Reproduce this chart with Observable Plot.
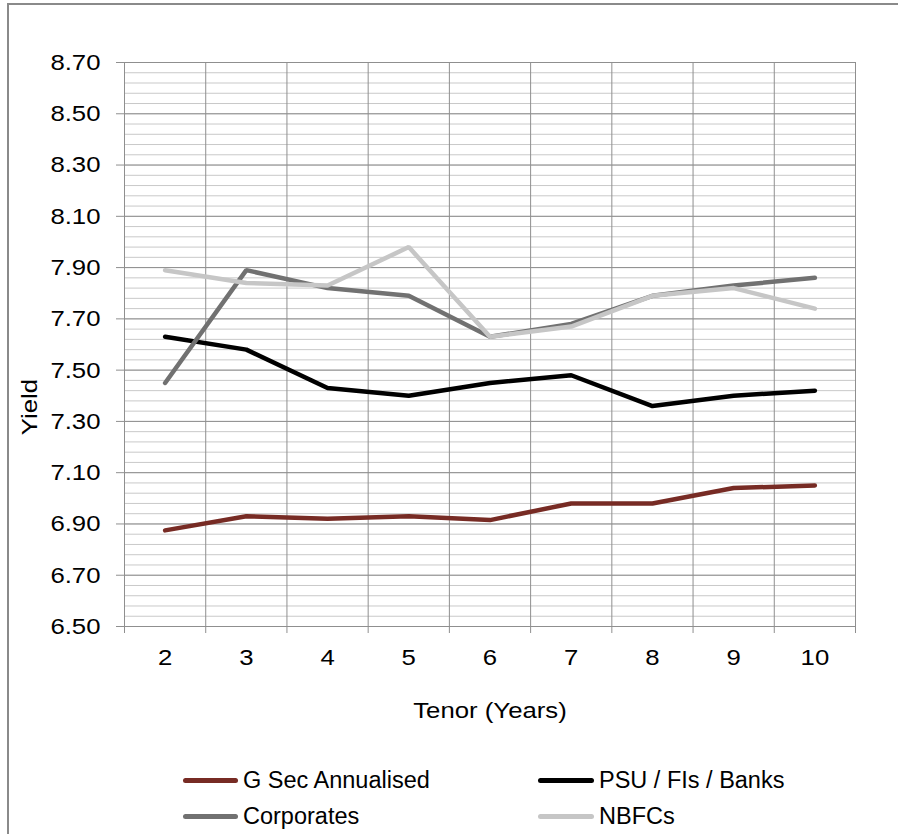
<!DOCTYPE html>
<html>
<head>
<meta charset="utf-8">
<script src="https://cdn.jsdelivr.net/npm/d3@7"></script>
<script src="https://cdn.jsdelivr.net/npm/@observablehq/plot@0.6"></script>
<style>
  html, body { margin: 0; padding: 0; background: #fff; }
  #wrap { position: relative; width: 898px; height: 834px; overflow: hidden; font-family: "Liberation Sans", Arial, sans-serif; }
  #frame { position: absolute; left: 7px; top: 3px; width: 900px; height: 840px; border-left: 2px solid #8a8a8a; border-top: 2px solid #8a8a8a; }
  #chart { position: absolute; left: 0; top: 0; }
  #legend { position: absolute; left: 0; top: 745px; width: 898px; height: 89px; font-size: 23.5px; color: #000; }
  .item { position: absolute; height: 26px; left: 0; }
  .sw { position: absolute; top: 10.5px; height: 5px; border-radius: 2.5px; }
  .tx { position: absolute; top: 0; line-height: 26px; white-space: nowrap; }
</style>
</head>
<body>
<div id="wrap">
  <div id="frame"></div>
  <div id="chart"></div>
  <div id="legend"></div>
</div>
<script>
const tenors = [2, 3, 4, 5, 6, 7, 8, 9, 10];
const seriesNames = ["G Sec Annualised", "PSU / FIs / Banks", "Corporates", "NBFCs"];
const seriesColors = ["#772b24", "#000000", "#717171", "#c6c6c6"];
const gSec = [6.875, 6.93, 6.92, 6.93, 6.915, 6.98, 6.98, 7.04, 7.05];
const psu = [7.63, 7.58, 7.43, 7.40, 7.45, 7.48, 7.36, 7.40, 7.42];
const corporates = [7.45, 7.89, 7.82, 7.79, 7.63, 7.68, 7.79, 7.83, 7.86];
const nbfcs = [7.89, 7.84, 7.83, 7.98, 7.63, 7.67, 7.79, 7.82, 7.74];
const yTicks = [6.5, 6.7, 6.9, 7.1, 7.3, 7.5, 7.7, 7.9, 8.1, 8.3, 8.5, 8.7];
const yMinor = d3.range(0, 56).map(i => +(6.5 + i * 0.04).toFixed(2));
const xBounds = d3.range(0, 10).map(i => 1.5 + i);
const xTitle = "Tenor (Years)";
const yTitle = "Yield";

const values = [gSec, psu, corporates, nbfcs];
const rows = [];
values.forEach((arr, s) => arr.forEach((v, i) => rows.push({series: seriesNames[s], tenor: tenors[i], y: v})));

const FS = 23;
const plot = Plot.plot({
  width: 898,
  height: 745,
  marginLeft: 124,
  marginRight: 43,
  marginTop: 62,
  marginBottom: 119,
  style: {fontFamily: "Liberation Sans, Arial, sans-serif", fontSize: FS + "px", color: "#000", background: "transparent"},
  x: {type: "linear", domain: [1.5, 10.5]},
  y: {domain: [6.5, 8.7]},
  color: {domain: seriesNames, range: seriesColors},
  marks: [
    Plot.ruleY(yMinor, {stroke: "#c9c9c9", strokeWidth: 1}),
    Plot.ruleY(yTicks, {stroke: "#8f8f8f", strokeWidth: 1}),
    Plot.ruleX(xBounds, {stroke: "#8f8f8f", strokeWidth: 1}),
    Plot.axisY({ticks: yTicks, tickFormat: d3.format(".2f"), tickSize: 8, tickPadding: 16, stroke: "#8f8f8f", label: null, fontSize: FS}),
    Plot.axisX({ticks: xBounds, tickSize: 7, tickFormat: () => "", stroke: "#8f8f8f", label: null}),
    Plot.axisX({ticks: tenors, tickSize: 0, tickPadding: 22, tickFormat: d => String(d), label: null, fontSize: FS}),
    Plot.text([xTitle], {frameAnchor: "bottom", lineAnchor: "top", dy: 75, fontSize: FS, fill: "#000", textAnchor: "middle"}),
    Plot.text([yTitle], {frameAnchor: "left", dx: -94.5, dy: 62.5, rotate: -90, fontSize: FS, fill: "#000", textAnchor: "middle"}),
    Plot.line(rows, {x: "tenor", y: "y", z: "series", stroke: "series", strokeWidth: 4.5, strokeLinejoin: "miter", strokeLinecap: "round"})
  ]
});
document.getElementById("chart").appendChild(plot);

// widen glyphs slightly to match the reference's wider axis text
const SX = 1.12;
plot.querySelectorAll("text").forEach(t => {
  const bb = t.getBBox();
  if (!bb.width) return;
  const anchor = getComputedStyle(t).textAnchor;
  const ax = anchor === "end" ? bb.x + bb.width : anchor === "middle" ? bb.x + bb.width / 2 : bb.x;
  const prev = t.getAttribute("transform") || "";
  t.setAttribute("transform", `${prev} translate(${ax} 0) scale(${SX} 1) translate(${-ax} 0)`);
});

const legend = document.getElementById("legend");
// [swatch left, swatch width, text left, row center y (relative to legend top)]
const pos = [[183, 55, 243, 35], [538, 56, 599, 35], [183, 55, 243, 71], [538, 56, 599, 71]];
seriesNames.forEach((name, i) => {
  const it = document.createElement("div");
  it.className = "item";
  it.style.top = (pos[i][3] - 13) + "px";
  const sw = document.createElement("div");
  sw.className = "sw";
  sw.style.left = pos[i][0] + "px";
  sw.style.width = pos[i][1] + "px";
  sw.style.background = seriesColors[i];
  const tx = document.createElement("div");
  tx.className = "tx";
  tx.style.left = pos[i][2] + "px";
  tx.textContent = name;
  it.appendChild(sw);
  it.appendChild(tx);
  legend.appendChild(it);
});
</script>
</body>
</html>
